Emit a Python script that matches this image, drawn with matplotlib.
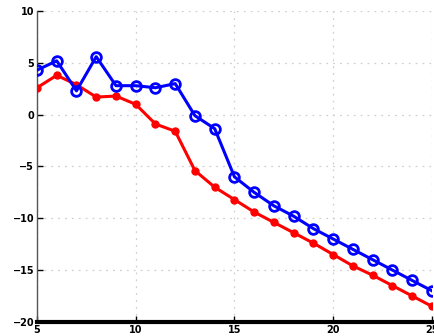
import numpy as np
import matplotlib
matplotlib.use("Agg")
import matplotlib.pyplot as plt

# Datavärden
x_vals = list(range(5, 26))
blue_vals = [4.3, 5.2, 2.3, 5.6, 2.8, 2.8, 2.6, 3.0, -0.1, -1.35, -6.0, -7.5,
             -8.8, -9.8, -11.0, -12.0, -13.0, -14.0, -15.0, -16.0, -17.0]
red_vals = [2.6, 3.8, 2.9, 1.7, 1.8, 1.0, -0.9, -1.6, -5.4, -7.0, -8.2, -9.4,
            -10.4, -11.4, -12.4, -13.5, -14.6, -15.5, -16.5, -17.5, -18.5]
x_ticks = [5, 10, 15, 20, 25]
y_ticks = [-20, -15, -10, -5, 0, 5, 10]

fig = plt.figure(figsize=(4.35, 3.36), dpi=100)
ax = fig.add_axes([0.085, 0.042, 0.908, 0.925])

ax.plot(x_vals, red_vals, color="red", lw=2.2, marker="o", ms=5,
        markerfacecolor="red", markeredgecolor="red", zorder=3)
ax.plot(x_vals, blue_vals, color="blue", lw=2.2, marker="o", ms=7,
        markerfacecolor="none", markeredgecolor="blue", markeredgewidth=2, zorder=4)

ax.set_xlim(5, 25)
ax.set_ylim(-20, 10)
ax.set_xticks(x_ticks)
ax.set_yticks(y_ticks)
ax.grid(True, color="#d0d0d0", linestyle=(0, (1.5, 4)), linewidth=0.9)

for side in ["top", "right"]:
    ax.spines[side].set_visible(False)
ax.spines["left"].set_color("#555555")
ax.spines["left"].set_linewidth(1.0)
ax.spines["bottom"].set_color("black")
ax.spines["bottom"].set_linewidth(3)

ax.tick_params(direction="in", length=4, width=1, labelsize=7, pad=2)
for lbl in ax.get_xticklabels() + ax.get_yticklabels():
    lbl.set_fontweight("bold")

fig.savefig("out.png", dpi=100)
